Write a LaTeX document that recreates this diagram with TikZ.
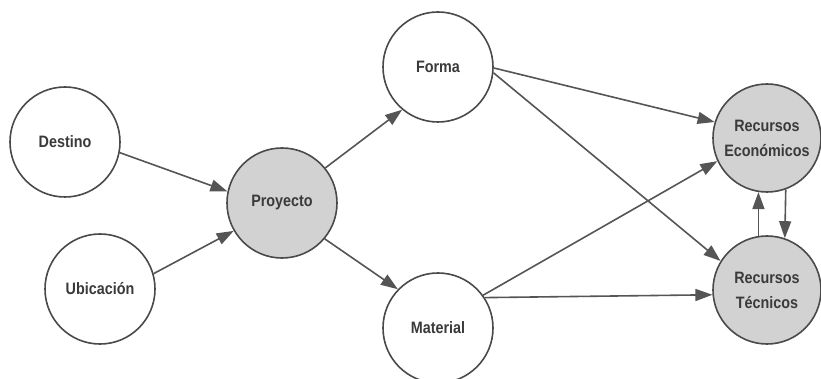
\documentclass[tikz,border=0pt]{standalone}
\usepackage{fontspec}
\setmainfont{Liberation Sans}
\newfontfamily\labelfont[FakeStretch=0.87]{Liberation Sans Bold}
\usetikzlibrary{arrows.meta}
\definecolor{ink}{HTML}{3A3A3A}
\definecolor{edge}{HTML}{4A4A4A}
\definecolor{wire}{HTML}{555555}
\definecolor{shade}{HTML}{D2D2D2}
\tikzset{
  factor/.style={circle, draw=edge, line width=1.6pt, fill=white,
    minimum size=110pt, inner sep=0pt, text=ink, align=center,
    font=\labelfont\fontsize{16.5}{25}\selectfont},
  keyfactor/.style={factor, fill=shade},
  resource/.style={keyfactor, minimum size=108pt},
  link/.style={draw=wire, line width=1.6pt,
    -{Triangle[length=17pt,width=12pt]}},
}
\begin{document}
\begin{tikzpicture}[x=1pt,y=-1pt]
  \useasboundingbox (0,0) rectangle (821,379);
  % circles
  \node[factor]    (des) at (65,142)  {Destino};
  \node[factor]    (ubi) at (100,289) {Ubicación};
  \node[keyfactor] (pro) at (282,203) {Proyecto};
  \node[factor]    (for) at (438,67)  {Forma};
  \node[factor]    (mat) at (438,328) {Material};
  \node[resource]  (eco) at (767,138) {Recursos\\Económicos};
  \node[resource]  (tec) at (767,290) {Recursos\\Técnicos};
  % connectors
  \draw[link] (des.-11) -- (pro.168);
  \draw[link] (ubi.16)  -- (pro.210);
  \draw[link] (pro.39)  -- (for.230);
  \draw[link] (pro.-40) -- (mat.136);
  \draw[link] (for.-1)  -- (eco.163);
  \draw[link] (for.-6)  -- (tec.148);
  \draw[link] (mat.36)  -- (eco.205);
  \draw[link] (mat.33)  -- (tec.185);
  \draw[link] (tec.99)  -- (eco.261);
  \draw[link] (eco.290) -- (tec.71);
\end{tikzpicture}
\end{document}
